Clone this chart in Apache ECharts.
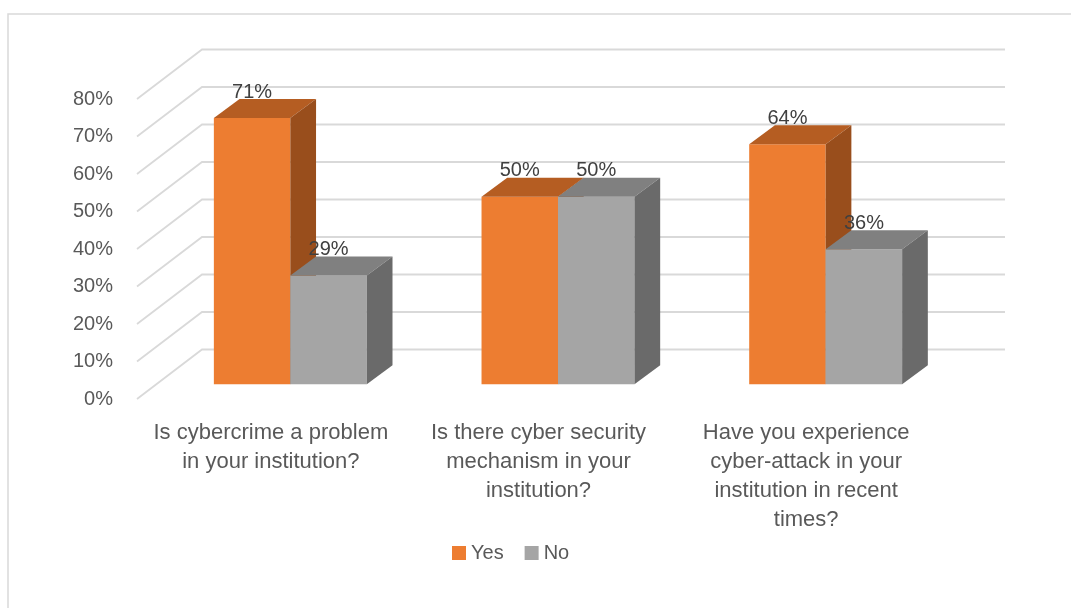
<!DOCTYPE html>
<html>
<head>
<meta charset="utf-8">
<script src="https://cdn.jsdelivr.net/npm/echarts@6/dist/echarts.min.js"></script>
<style>html,body{margin:0;padding:0;background:#fff}#c{width:1071px;height:608px}</style>
</head>
<body>
<div id="c"></div>
<script>
const categories = [
  'Is cybercrime a problem\nin your institution?',
  'Is there cyber security\nmechanism in your\ninstitution?',
  'Have you experience\ncyber-attack in your\ninstitution in recent\ntimes?'
];
const yesValues = [71, 50, 64];
const noValues = [29, 50, 36];
const yTicks = [0, 10, 20, 30, 40, 50, 60, 70, 80];

const FONT = 'Liberation Sans';
const WALL = {dx: 65, dy: -49.5};
const BAR = {dx: 25.7, dy: -19, frac: 0.2857};

const chart = echarts.init(document.getElementById('c'), null, {renderer: 'canvas'});

function barRender(side, colors) {
  return function (params, api) {
    const ci = api.value(0), v = api.value(1);
    const top = api.coord([ci, v]);
    const base = api.coord([ci, 0]);
    const band = api.size([1, 0])[0];
    const bw = band * BAR.frac;
    const x0 = side === 0 ? top[0] - bw : top[0];
    const x1 = x0 + bw, y0 = top[1], yb = base[1];
    const dx = BAR.dx, dy = BAR.dy;
    return {
      type: 'group',
      children: [
        {type: 'polygon', shape: {points: [[x0, y0], [x1, y0], [x1, yb], [x0, yb]]}, style: {fill: colors[0]}},
        {type: 'polygon', shape: {points: [[x0, y0], [x1, y0], [x1 + dx, y0 + dy], [x0 + dx, y0 + dy]]}, style: {fill: colors[1]}},
        {type: 'polygon', shape: {points: [[x1, y0], [x1 + dx, y0 + dy], [x1 + dx, yb + dy], [x1, yb]]}, style: {fill: colors[2]}},
        {type: 'text', z2: 100, style: {text: v + '%', x: (x0 + x1) / 2, y: y0 - 26, align: 'center', verticalAlign: 'middle', fill: '#404040', fontSize: 20, fontFamily: FONT}}
      ]
    };
  };
}

const option = {
  animation: false,
  textStyle: {fontFamily: FONT},
  graphic: [{type: 'rect', shape: {x: 8, y: 14, width: 1200, height: 800}, style: {fill: 'none', stroke: '#D9D9D9', lineWidth: 1.5}, silent: true}],
  legend: {
    left: 452, top: 543, padding: 0, itemWidth: 14, itemHeight: 14, itemGap: 21, icon: 'rect',
    textStyle: {fontSize: 20, color: '#595959', fontFamily: FONT},
    data: ['Yes', 'No']
  },
  grid: [
    {left: 137, top: 99, width: 803, height: 300},
    {left: 156.5, top: 84.3, width: 803, height: 300}
  ],
  xAxis: [
    {type: 'category', gridIndex: 0, data: categories, axisLine: {show: false}, axisTick: {show: false},
     axisLabel: {color: '#595959', fontSize: 22, lineHeight: 29, margin: 19, fontFamily: FONT, interval: 0}},
    {type: 'category', gridIndex: 1, data: categories, show: false}
  ],
  yAxis: [
    {type: 'value', gridIndex: 0, min: 0, max: 80, interval: 10, axisLine: {show: false}, axisTick: {show: false}, splitLine: {show: false},
     axisLabel: {formatter: '{value}%', color: '#595959', fontSize: 20, margin: 24, fontFamily: FONT}},
    {type: 'value', gridIndex: 1, min: 0, max: 80, interval: 10, show: false, splitLine: {show: false}}
  ],
  series: [
    {
      type: 'custom', name: 'walls', xAxisIndex: 0, yAxisIndex: 0, z: 1, silent: true,
      data: yTicks.map(v => [0, v]),
      renderItem: function (params, api) {
        const y = api.coord([0, api.value(1)])[1];
        const x = params.coordSys.x, w = params.coordSys.width;
        return {type: 'polyline', shape: {points: [[x, y], [x + WALL.dx, y + WALL.dy], [x + WALL.dx + w, y + WALL.dy]]},
                style: {stroke: '#D9D9D9', lineWidth: 1.8, fill: 'none'}};
      }
    },
    {
      type: 'custom', name: 'Yes', xAxisIndex: 1, yAxisIndex: 1, z: 5,
      itemStyle: {color: '#ED7D31'},
      data: yesValues.map((v, i) => [i, v]),
      renderItem: barRender(0, ['#ED7D31', '#B55D22', '#994E1C'])
    },
    {
      type: 'custom', name: 'No', xAxisIndex: 1, yAxisIndex: 1, z: 6,
      itemStyle: {color: '#A5A5A5'},
      data: noValues.map((v, i) => [i, v]),
      renderItem: barRender(1, ['#A5A5A5', '#808080', '#6A6A6A'])
    }
  ]
};
chart.setOption(option);
</script>
</body>
</html>
